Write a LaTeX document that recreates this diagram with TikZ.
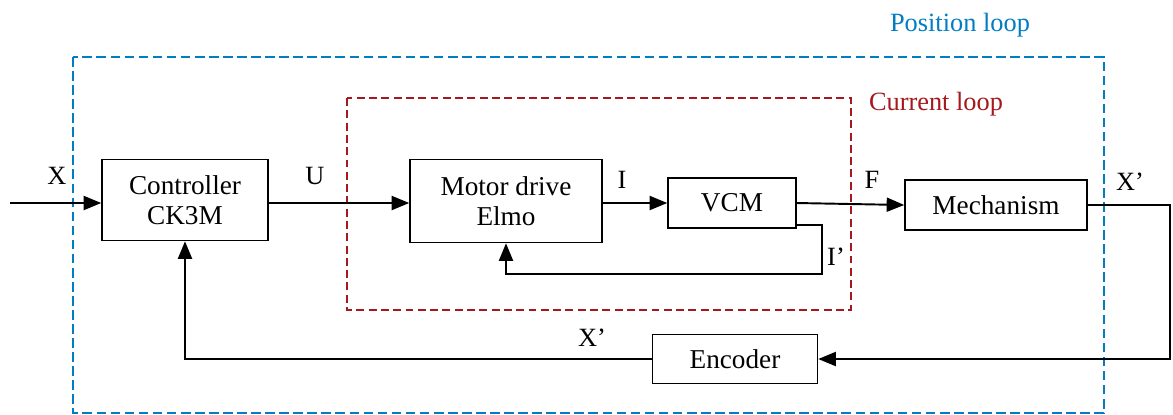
\documentclass[tikz,border=0pt]{standalone}
\usepackage{fontspec}
\setmainfont{Liberation Serif}
\usetikzlibrary{calc,arrows.meta}

\definecolor{posblue}{RGB}{0,125,195}
\definecolor{curred}{RGB}{165,25,30}

\tikzset{
  blk/.style={draw, line width=0.9pt, inner sep=0pt, align=center,
    font=\fontsize{15.5}{17}\selectfont},
  sig/.style={line width=1.1pt, -{Triangle[length=10pt,width=8pt]}},
  lbl/.style={inner sep=0pt, font=\fontsize{15}{17}\selectfont},
}

\begin{document}
\begin{tikzpicture}[x=0.02cm,y=-0.02cm]
\useasboundingbox (0,0) rectangle (1173,414);

% loops
\draw [posblue, line width=0.9pt, dash pattern=on 5.5pt off 2.5pt]
  (73,57) rectangle (1104,413);
\node [lbl, text=posblue] (posl) at (960,25) {Position loop};
\draw [curred, line width=0.9pt, dash pattern=on 4.5pt off 2.5pt]
  (347,98) rectangle (851,310);
\node [lbl, text=curred] (curl) at (936,104) {Current loop};

% blocks
\node [blk, minimum width=3.32cm, minimum height=1.62cm] (ctrl) at (185,200) {Controller\\CK3M};
\node [blk, minimum width=3.84cm, minimum height=1.66cm] (drive) at (506,201) {Motor drive\\Elmo};
\node [blk, minimum width=2.56cm, minimum height=1.0cm] (vcm) at (732,203) {VCM};
\node [blk, minimum width=3.64cm, minimum height=1.0cm] (mech) at (996,205) {Mechanism};
\node [blk, minimum width=3.3cm, minimum height=0.98cm] (enc) at (735,359) {Encoder};

% signals
\coordinate (in) at (10,203);
\draw [sig] (in) -- (in -| ctrl.west);
\node [lbl] (xin) at (57,176) {X};
\draw [sig] (ctrl.east |- 0,203) -- (drive.west |- 0,203);
\node [lbl] (u) at (315,176) {U};
\draw [sig] (drive.east |- vcm.west) -- (vcm.west);
\node [lbl] (i) at (622,180) {I};
\draw [sig] (vcm.east) -- (mech.west);
\node [lbl] (f) at (872,180) {F};

% current feedback
\coordinate (ifb) at (822,274);
\draw [sig] ([yshift=2pt]vcm.south east) -| (ifb) -| (drive.south);
\node [lbl] (ip) at (836,257) {I’};

% position feedback
\coordinate (xfb) at (1170,359);
\draw [sig] (mech.east) -| (xfb) -- (enc.east);
\node [lbl] (xout) at (1130,182) {X’};
\draw [sig] (enc.west) -| (ctrl.south);
\node [lbl] (xp) at (592,338) {X’};
\end{tikzpicture}
\end{document}
